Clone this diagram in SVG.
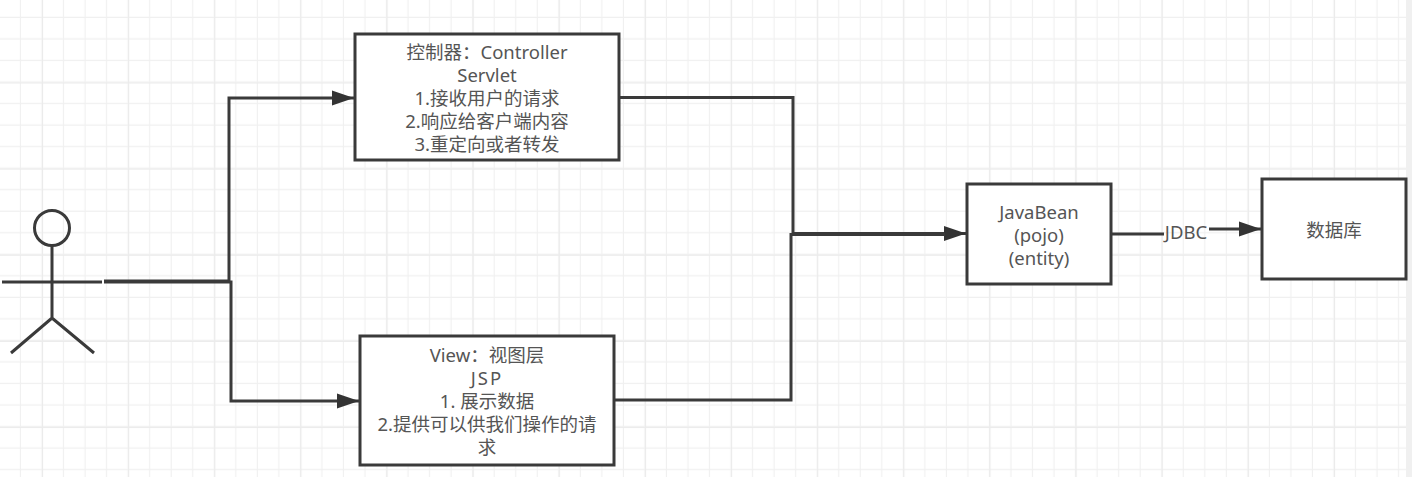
<svg xmlns="http://www.w3.org/2000/svg" width="1412" height="477" viewBox="0 0 1412 477">
<style>
.box{fill:#fff;stroke:#3a3a3a;stroke-width:3}
.ln{fill:none;stroke:#3a3a3a;stroke-width:3}
.t{font-family:"Noto Sans","Noto Sans CJK SC",sans-serif;font-size:18.5px;fill:#555;text-anchor:middle}
</style>
<defs>
<pattern id="g" width="21.533" height="21.533" patternUnits="userSpaceOnUse" x="-0.5" y="-3.5"><path d="M21 0V21.533M0 21H21.533" fill="none" stroke="#f0f0f0" stroke-width="1.2"/></pattern>
<pattern id="G" width="86.133" height="86.133" patternUnits="userSpaceOnUse" x="42" y="-3.6"><path d="M0.5 0V86.133M0 0.500H86.133" fill="none" stroke="#ebebeb" stroke-width="1.200"/></pattern>
<marker id="a" markerUnits="userSpaceOnUse" markerWidth="22" markerHeight="16" refX="22" refY="8" orient="auto"><path d="M0 0.500L22 8L0 15.500Z" fill="#333"/></marker>
</defs>
<rect width="1412" height="477" fill="#fff"/>
<rect width="1412" height="477" fill="url(#g)"/>
<rect width="1412" height="477" fill="url(#G)"/>
<rect x="1406" width="6" height="477" fill="#f0f0f0"/>
<g id="connectors">
<path class="ln" d="M104 281H229V98H354" marker-end="url(#a)"/>
<path class="ln" d="M104 282H231V401H359" marker-end="url(#a)"/>
<path class="ln" d="M619 97.500H793V233.500H966" marker-end="url(#a)"/>
<path class="ln" d="M604 400H791V234.500H945"/>
<path class="ln" d="M1111 234H1164"/>
<path class="ln" d="M1209 229H1261" marker-end="url(#a)"/>
</g>
<g id="actor">
<circle class="ln" cx="52" cy="228" r="17.500"/>
<path class="ln" stroke-width="2.500" d="M52 246V318M2 282H102M11 353L52 318L94 353"/>
</g>
<g id="controller">
<rect class="box" x="355" y="34" width="264" height="126"/>
<text class="t" x="487" y="59">控制器：Controller</text>
<text class="t" x="487" y="82">Servlet</text>
<text class="t" x="487" y="105">1.接收用户的请求</text>
<text class="t" x="487" y="128">2.响应给客户端内容</text>
<text class="t" x="487" y="151">3.重定向或者转发</text>
</g>
<g id="view">
<rect class="box" x="360" y="336" width="254" height="129"/>
<text class="t" x="487" y="362">View：视图层</text>
<text class="t" x="487" y="385" letter-spacing="2">JSP</text>
<text class="t" x="487" y="408">1. 展示数据</text>
<text class="t" x="487" y="431">2.提供可以供我们操作的请</text>
<text class="t" x="487" y="454">求</text>
</g>
<g id="javabean">
<rect class="box" x="967" y="184" width="144" height="100"/>
<text class="t" x="1039" y="219">JavaBean</text>
<text class="t" x="1039" y="242">(pojo)</text>
<text class="t" x="1039" y="265">(entity)</text>
</g>
<g id="database">
<rect class="box" x="1262" y="179" width="144" height="100"/>
<text class="t" x="1334" y="237">数据库</text>
</g>
<text class="t" x="1186" y="239">JDBC</text>
</svg>
